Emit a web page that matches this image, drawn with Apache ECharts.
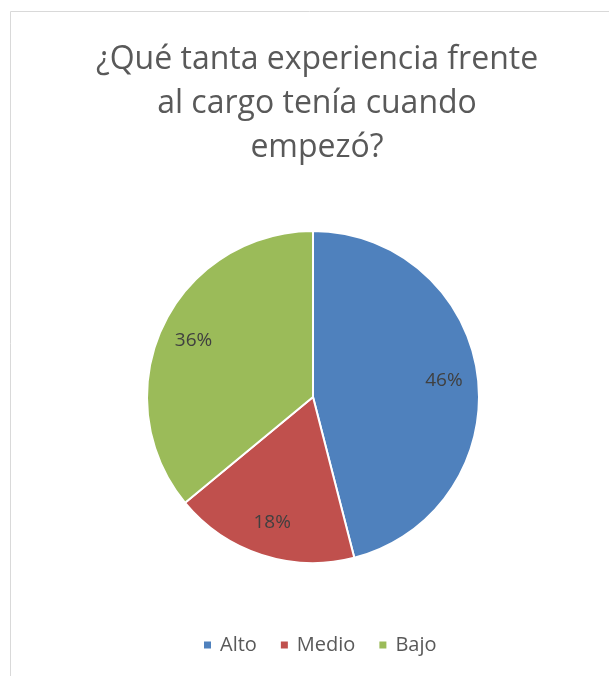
<!DOCTYPE html>
<html><head><meta charset="utf-8">
<script src="https://cdn.jsdelivr.net/npm/echarts@6/dist/echarts.min.js"></script>
<style>html,body{margin:0;padding:0;background:#fff}#c{width:609px;height:676px}</style>
</head><body><div id="c"></div>
<script>
const categories = ['Alto', 'Medio', 'Bajo'];
const values = [46, 18, 36];
const colors = ['#4f81bd', '#c0504d', '#9bbb59'];
const titleLines = ['¿Qué tanta experiencia frente', 'al cargo tenía cuando', 'empezó?'];

const chart = echarts.init(document.getElementById('c'));
const data = categories.map((n, i) => ({ name: n, value: values[i], itemStyle: { color: colors[i] } }));
const font = '"Open Sans", "Noto Sans", sans-serif';
chart.setOption({
  animation: false,
  graphic: [
    { type: 'line', shape: { x1: 10.5, y1: 11.5, x2: 609, y2: 11.5 }, style: { stroke: '#d9d9d9', lineWidth: 1 } },
    { type: 'line', shape: { x1: 10.5, y1: 11.5, x2: 10.5, y2: 676 }, style: { stroke: '#d9d9d9', lineWidth: 1 } }
  ],
  title: {
    text: titleLines.join('\n'),
    left: 312, top: 33, textAlign: 'center',
    textStyle: { fontFamily: font, fontSize: 32, fontWeight: 'normal', color: '#595959', lineHeight: 44 }
  },
  legend: {
    bottom: 16, left: 197,
    icon: 'rect', itemWidth: 9, itemHeight: 9, itemGap: 22,
    textStyle: { fontFamily: font, fontSize: 20, color: '#595959', padding: [0, 0, 0, 3] },
    data: categories
  },
  series: [
    {
      type: 'pie', center: [313, 397], radius: [0, 166], startAngle: 90, clockwise: true,
      itemStyle: { borderColor: '#fff', borderWidth: 2 },
      label: { show: false }, labelLine: { show: false },
      emphasis: { disabled: true },
      data: data
    },
    {
      type: 'pie', center: [313, 397], radius: [0, 258], startAngle: 90, clockwise: true,
      silent: true, legendHoverLink: false,
      itemStyle: { color: 'transparent', borderWidth: 0 },
      label: { show: true, position: 'inside', formatter: '{d}%', fontFamily: font, fontSize: 19, color: '#404040' },
      labelLine: { show: false },
      emphasis: { disabled: true },
      data: categories.map((n, i) => ({ name: n + ' ', value: values[i] }))
    }
  ]
});
</script></body></html>
